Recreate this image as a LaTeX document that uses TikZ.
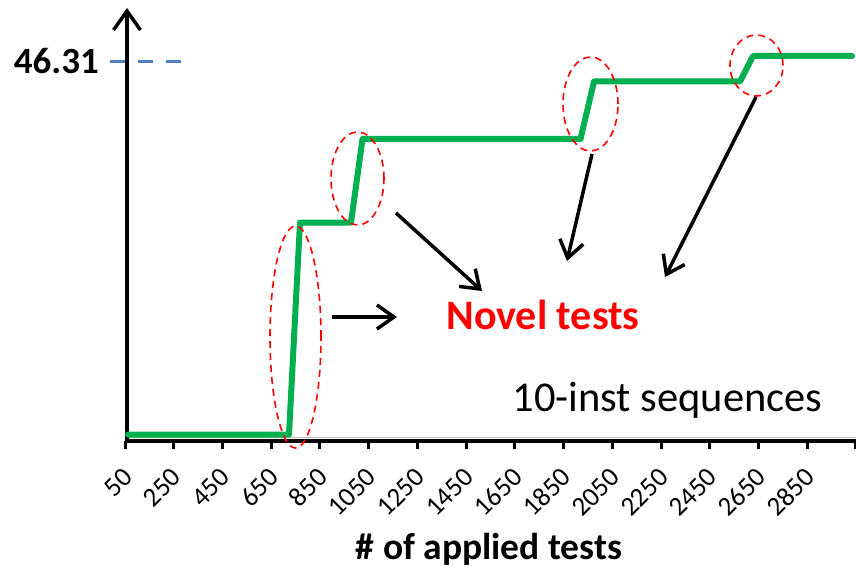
\documentclass[tikz,border=0pt]{standalone}
\usepackage{fontspec}
\setmainfont{Carlito}
\usetikzlibrary{arrows.meta,shapes.geometric}
\definecolor{stepgreen}{HTML}{00B050}
\definecolor{refblue}{HTML}{4F81BD}
\tikzset{
  axisline/.style={line width=3.5pt, black},
  tickmark/.style={line width=3pt, black},
  ticklabel/.style={inner sep=0pt, anchor=base east, rotate=45,
    font=\fontsize{27}{31}\selectfont},
  stepline/.style={stepgreen, line width=6pt, line join=round, line cap=round},
  novelring/.style={ellipse, draw=red, line width=1.6pt,
    dash pattern=on 7pt off 5pt, inner sep=0pt},
  pointer/.style={line width=3.5pt, black,
    -{Straight Barb[length=17pt, width=24pt]}},
}
\begin{document}
\begin{tikzpicture}[x=1pt, y=-1pt]
\useasboundingbox (0,0) rectangle (856,572);

% plot-area border under the curve
\draw[black!25, line width=1pt] (128,437.5) -- (856,437.5);

% axes
\coordinate (origin) at (127,443);
\coordinate (ytip) at (127,8);
\coordinate (xstart) at (125,441);
\coordinate (xend) at (856,441);
\draw[axisline, -{Straight Barb[length=19pt, width=27pt]}] (origin) -- (ytip);
\draw[axisline] (xstart) -- (xend);

% category ticks and labels
\foreach \i in {0,...,15}
  \draw[tickmark] ({125+48.73*\i},441) -- ++(0,8);
\foreach \v [count=\i from 0] in {50,250,...,2850}
  \node[ticklabel] (tick\i) at ({134+48.73*\i},479) {\v};

% maximum value marker
\coordinate (maxa) at (110,62);
\coordinate (maxb) at (185,62);
\draw[refblue, line width=3pt, dash pattern=on 15pt off 13pt] (maxa) -- (maxb);
\node[inner sep=0pt, anchor=base east, font=\fontsize{37}{40}\selectfont\bfseries]
  (maxlabel) at (99,74) {46.31};

% coverage curve
\draw[stepline] (128,434.5) -- (289,434.5) -- (300,222.5) -- (351,222.5)
  -- (362.5,139) -- (580.5,139) -- (594,81.5) -- (740,81.5) -- (753,56) -- (852,56);

% rings round the jumps
\node[novelring, minimum width=51pt, minimum height=222pt] (ring1) at (295.5,337) {};
\node[novelring, minimum width=53pt, minimum height=93pt] (ring2) at (357.5,178.5) {};
\node[novelring, minimum width=55pt, minimum height=94pt] (ring3) at (590.5,104) {};
\node[novelring, minimum width=53pt, minimum height=61pt] (ring4) at (756.5,65.5) {};

% labels
\node[inner sep=0pt, anchor=base, text=red, font=\fontsize{42}{45}\selectfont\bfseries]
  (novel) at (543,329) {Novel tests};
\node[inner sep=0pt, anchor=base, font=\fontsize{42.5}{46}\selectfont]
  (seq) at (667.5,411) {10-inst sequences};
\node[inner sep=0pt, anchor=base, font=\fontsize{37.5}{40}\selectfont\bfseries]
  (xtitle) at (489,559) {\# of applied tests};

% pointers from the rings towards the label
\coordinate (p1a) at (332,317);  \coordinate (p1b) at (397,317);
\coordinate (p2a) at (396,213);  \coordinate (p2b) at (482,291);
\coordinate (p3a) at (592,154);  \coordinate (p3b) at (567,261);
\coordinate (p4a) at (756,97);   \coordinate (p4b) at (665,277);
\draw[pointer] (p1a) -- (p1b);
\draw[pointer] (p2a) -- (p2b);
\draw[pointer] (p3a) -- (p3b);
\draw[pointer] (p4a) -- (p4b);
\end{tikzpicture}
\end{document}
